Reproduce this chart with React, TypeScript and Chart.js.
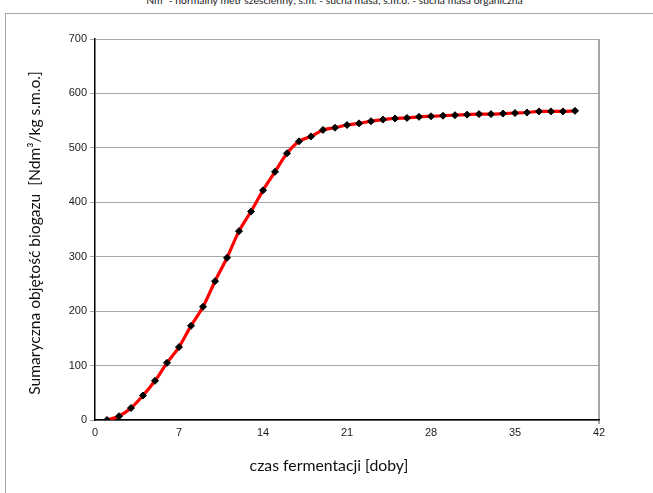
import React, { useEffect, useRef } from "react";
import { Chart, registerables } from "chart.js";

Chart.register(...registerables);

const days: number[] = [1,2,3,4,5,6,7,8,9,10,11,12,13,14,15,16,17,18,19,20,21,22,23,24,25,26,27,28,29,30,31,32,33,34,35,36,37,38,39,40];
const biogas: number[] = [0,7,22,45,72,105,134,173,208,255,298,347,383,422,456,490,512,521,533,537,542,545,549,552,554,555,557,558,559,560,561,562,562,563,564,565,567,567,567,568];

const xTitle = "czas fermentacji [doby]";
const yTitle = "Sumaryczna objętość biogazu  [Ndm³/kg s.m.o.]";
const noteText = "Nm³ - normalny metr sześcienny; s.m. - sucha masa; s.m.o. - sucha masa organiczna";

const titleFont = "Lato, 'Noto Sans', sans-serif";

const titlesPlugin = {
  id: "axisTitles",
  afterDraw(chart: any) {
    const { ctx } = chart;
    ctx.save();
    ctx.fillStyle = "#111";
    ctx.textAlign = "center";
    ctx.textBaseline = "middle";
    ctx.font = `15.8px ${titleFont}`;
    ctx.fillText(xTitle, 329, 466);
    ctx.font = `15.6px ${titleFont}`;
    ctx.translate(35, 233);
    ctx.rotate(-Math.PI / 2);
    ctx.fillText(yTitle, 0, 0);
    ctx.restore();
  },
};

export default function App() {
  const ref = useRef<HTMLCanvasElement | null>(null);
  useEffect(() => {
    if (!ref.current) return;
    const chart = new Chart(ref.current, {
      type: "line",
      data: {
        datasets: [
          {
            data: days.map((d, i) => ({ x: d, y: biogas[i] })),
            borderColor: "#ff0000",
            borderWidth: 3.2,
            cubicInterpolationMode: "monotone",
            pointStyle: "rectRot",
            pointRadius: 3.5,
            pointBackgroundColor: "#000",
            pointBorderColor: "#000",
            pointBorderWidth: 1,
          },
        ],
      },
      plugins: [titlesPlugin],
      options: {
        animation: false,
        responsive: false,
        maintainAspectRatio: false,
        layout: { padding: { left: 0, right: 54, top: 39, bottom: 0 } },
        plugins: { legend: { display: false }, tooltip: { enabled: false }, title: { display: false } },
        scales: {
          x: {
            type: "linear",
            min: 0,
            max: 42,
            afterFit: (s: any) => { s.height = 73; },
            ticks: { stepSize: 7, color: "#222", font: { family: "'Liberation Sans', Arial, sans-serif", size: 11 }, padding: 2 },
            grid: {
              drawOnChartArea: true,
              tickLength: 4,
              lineWidth: 2,
              color: (c: any) => (c.tick && c.tick.value === 42 ? "#a6a6a6" : "rgba(0,0,0,0)"),
            },
            border: { color: "#000", width: 1.5 },
          },
          y: {
            min: 0,
            max: 700,
            afterFit: (s: any) => { s.width = 95; },
            ticks: { stepSize: 100, color: "#222", font: { family: "'Liberation Sans', Arial, sans-serif", size: 11 }, padding: 3 },
            grid: { color: "#a6a6a6", lineWidth: 1, tickLength: 5 },
            border: { color: "#000", width: 1.5 },
          },
        },
      },
    });
    return () => chart.destroy();
  }, []);
  return (
    <div style={{ position: "fixed", left: 0, top: 0, width: 653, height: 493, background: "#fff", overflow: "hidden" }}>
      <div
        style={{
          position: "absolute",
          left: 0,
          width: 653,
          top: -6,
          textAlign: "center",
          fontFamily: titleFont,
          fontSize: 10.4,
          color: "#222",
          whiteSpace: "nowrap",
          paddingLeft: 16,
          boxSizing: "border-box",
        }}
      >
        {noteText}
      </div>
      <div
        style={{
          position: "absolute",
          left: 5,
          top: 13,
          width: 660,
          height: 500,
          borderTop: "1px solid #a6a6a6",
          borderLeft: "1px solid #a6a6a6",
        }}
      />
      <canvas ref={ref} width={653} height={493} style={{ position: "absolute", left: 0, top: 0 }} />
    </div>
  );
}
